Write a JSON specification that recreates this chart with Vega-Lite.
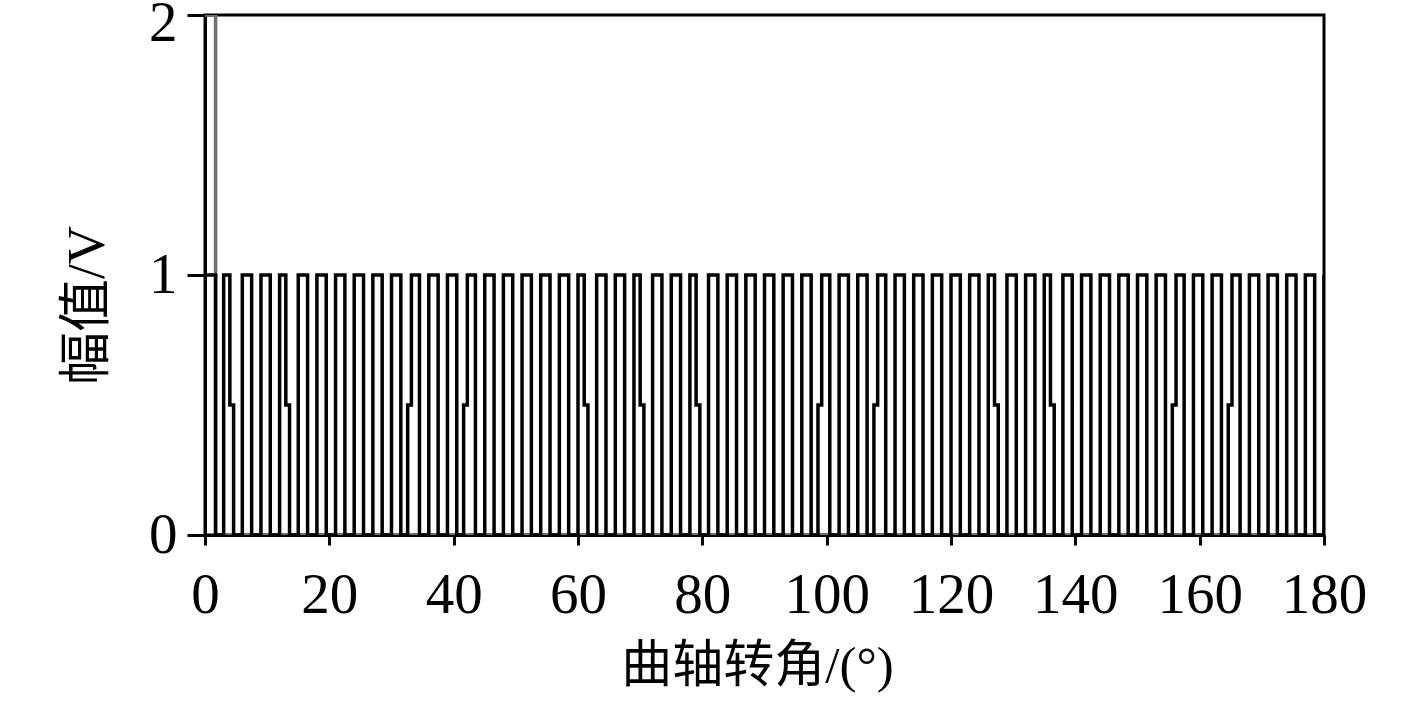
{
  "$schema": "https://vega.github.io/schema/vega-lite/v6.json",
  "width": 1119,
  "height": 520,
  "autosize": "none",
  "padding": {"left": 205, "top": 15, "right": 93, "bottom": 176},
  "background": "white",
  "config": {
    "view": {"stroke": "black", "strokeWidth": 3},
    "axis": {
      "labelFont": "Liberation Serif",
      "labelFontSize": 57,
      "labelColor": "black",
      "labelFlush": false,
      "labelOverlap": false,
      "titleFont": "Liberation Serif, Noto Sans CJK SC",
      "titleFontSize": 51,
      "titleFontWeight": "normal",
      "titleColor": "black",
      "domainColor": "black",
      "domainWidth": 3,
      "tickColor": "black",
      "tickWidth": 3,
      "grid": false
    }
  },
  "datasets": {
    "sync": [
      {"a": 0, "v": 2}, {"a": 1.7, "v": 0}, {"a": 180, "v": 0}
    ],
    "crank": [
      {"a": 0, "v": 1}, {"a": 1.7, "v": 0},
      {"a": 3, "v": 1}, {"a": 4, "v": 0.5}, {"a": 4.6, "v": 0},
      {"a": 6, "v": 1}, {"a": 7.5, "v": 0},
      {"a": 9, "v": 1}, {"a": 10.5, "v": 0},
      {"a": 12, "v": 1}, {"a": 13, "v": 0.5}, {"a": 13.6, "v": 0},
      {"a": 15, "v": 1}, {"a": 16.5, "v": 0},
      {"a": 18, "v": 1}, {"a": 19.5, "v": 0},
      {"a": 21, "v": 1}, {"a": 22.5, "v": 0},
      {"a": 24, "v": 1}, {"a": 25.5, "v": 0},
      {"a": 27, "v": 1}, {"a": 28.5, "v": 0},
      {"a": 30, "v": 1}, {"a": 31.5, "v": 0},
      {"a": 32.6, "v": 0.5}, {"a": 33.2, "v": 1}, {"a": 34.5, "v": 0},
      {"a": 36, "v": 1}, {"a": 37.5, "v": 0},
      {"a": 39, "v": 1}, {"a": 40.5, "v": 0},
      {"a": 41.6, "v": 0.5}, {"a": 42.2, "v": 1}, {"a": 43.5, "v": 0},
      {"a": 45, "v": 1}, {"a": 46.5, "v": 0},
      {"a": 48, "v": 1}, {"a": 49.5, "v": 0},
      {"a": 51, "v": 1}, {"a": 52.5, "v": 0},
      {"a": 54, "v": 1}, {"a": 55.5, "v": 0},
      {"a": 57, "v": 1}, {"a": 58.5, "v": 0},
      {"a": 60, "v": 1}, {"a": 61, "v": 0.5}, {"a": 61.6, "v": 0},
      {"a": 63, "v": 1}, {"a": 64.5, "v": 0},
      {"a": 66, "v": 1}, {"a": 67.5, "v": 0},
      {"a": 69, "v": 1}, {"a": 70, "v": 0.5}, {"a": 70.6, "v": 0},
      {"a": 72, "v": 1}, {"a": 73.5, "v": 0},
      {"a": 75, "v": 1}, {"a": 76.5, "v": 0},
      {"a": 78, "v": 1}, {"a": 79, "v": 0.5}, {"a": 79.6, "v": 0},
      {"a": 81, "v": 1}, {"a": 82.5, "v": 0},
      {"a": 84, "v": 1}, {"a": 85.5, "v": 0},
      {"a": 87, "v": 1}, {"a": 88.5, "v": 0},
      {"a": 90, "v": 1}, {"a": 91.5, "v": 0},
      {"a": 93, "v": 1}, {"a": 94.5, "v": 0},
      {"a": 96, "v": 1}, {"a": 97.5, "v": 0},
      {"a": 98.6, "v": 0.5}, {"a": 99.2, "v": 1}, {"a": 100.5, "v": 0},
      {"a": 102, "v": 1}, {"a": 103.5, "v": 0},
      {"a": 105, "v": 1}, {"a": 106.5, "v": 0},
      {"a": 107.6, "v": 0.5}, {"a": 108.2, "v": 1}, {"a": 109.5, "v": 0},
      {"a": 111, "v": 1}, {"a": 112.5, "v": 0},
      {"a": 114, "v": 1}, {"a": 115.5, "v": 0},
      {"a": 117, "v": 1}, {"a": 118.5, "v": 0},
      {"a": 120, "v": 1}, {"a": 121.5, "v": 0},
      {"a": 123, "v": 1}, {"a": 124.5, "v": 0},
      {"a": 126, "v": 1}, {"a": 127, "v": 0.5}, {"a": 127.6, "v": 0},
      {"a": 129, "v": 1}, {"a": 130.5, "v": 0},
      {"a": 132, "v": 1}, {"a": 133.5, "v": 0},
      {"a": 135, "v": 1}, {"a": 136, "v": 0.5}, {"a": 136.6, "v": 0},
      {"a": 138, "v": 1}, {"a": 139.5, "v": 0},
      {"a": 141, "v": 1}, {"a": 142.5, "v": 0},
      {"a": 144, "v": 1}, {"a": 145.5, "v": 0},
      {"a": 147, "v": 1}, {"a": 148.5, "v": 0},
      {"a": 150, "v": 1}, {"a": 151.5, "v": 0},
      {"a": 153, "v": 1}, {"a": 154.5, "v": 0},
      {"a": 155.6, "v": 0.5}, {"a": 156.2, "v": 1}, {"a": 157.5, "v": 0},
      {"a": 159, "v": 1}, {"a": 160.5, "v": 0},
      {"a": 162, "v": 1}, {"a": 163.5, "v": 0},
      {"a": 164.6, "v": 0.5}, {"a": 165.2, "v": 1}, {"a": 166.5, "v": 0},
      {"a": 168, "v": 1}, {"a": 169.5, "v": 0},
      {"a": 171, "v": 1}, {"a": 172.5, "v": 0},
      {"a": 174, "v": 1}, {"a": 175.5, "v": 0},
      {"a": 177, "v": 1}, {"a": 178.5, "v": 0},
      {"a": 180, "v": 1}
    ]
  },
  "encoding": {
    "x": {
      "field": "a",
      "type": "quantitative",
      "scale": {"domain": [0, 180], "nice": false, "zero": false},
      "axis": {
        "title": "曲轴转角/(°)",
        "values": [0, 20, 40, 60, 80, 100, 120, 140, 160, 180],
        "format": ".0f",
        "tickMinStep": 0.1,
        "tickSize": 10,
        "labelPadding": 22,
        "titlePadding": 18,
        "titleX": 552
      }
    },
    "y": {
      "field": "v",
      "type": "quantitative",
      "scale": {"domain": [0, 2], "nice": false},
      "axis": {
        "title": "幅值/V",
        "values": [0, 1, 2],
        "format": ".0f",
        "tickMinStep": 0.1,
        "tickCount": 3,
        "tickSize": 18,
        "labelPadding": 10,
        "labelOffset": {"condition": {"test": "datum.value == 2", "value": 8}, "value": 0},
        "titlePadding": 34,
        "titleFontSize": 53,
        "titleY": 290
      }
    }
  },
  "layer": [
    {
      "data": {"name": "sync"},
      "mark": {"type": "line", "interpolate": "step-after", "color": "#6e6e6e", "strokeWidth": 3.5, "clip": true}
    },
    {
      "data": {"name": "crank"},
      "mark": {"type": "line", "interpolate": "step-after", "color": "black", "strokeWidth": 3.5, "clip": true}
    }
  ]
}
